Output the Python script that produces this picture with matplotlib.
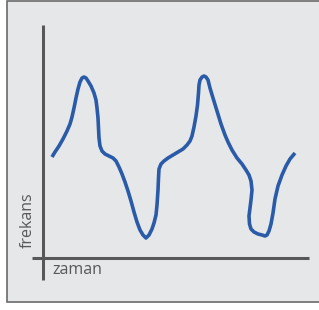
import matplotlib
matplotlib.use("Agg")
import matplotlib.pyplot as plt
from matplotlib.patches import Rectangle

# curve (pixel positions, y grows downward)
zaman = [52, 55, 59, 63, 67, 70, 72, 74, 76, 78, 80, 82, 84, 86, 88, 91, 94, 96, 97, 98,
         98.5, 99, 100, 102, 105, 109, 113, 116, 119, 122, 125, 128, 131, 134, 137, 140,
         143, 146, 149, 152, 154, 156, 157, 158, 158.5, 159, 161, 164, 168, 173, 178, 183,
         187, 190, 192, 194, 196, 197.5, 198.5, 199, 200, 202, 204, 206, 208, 210, 213,
         217, 221, 225, 228, 232, 237, 242, 246, 249, 251, 252, 251, 250, 249, 249.5, 251,
         254, 258, 262, 265, 267, 269, 271, 273, 275, 278, 282, 286, 290, 295]
frekans = [157, 152, 146, 139, 131, 124, 117, 108, 98, 89, 82, 78, 77, 78, 81, 86, 93, 100,
           108, 118, 128, 138, 146, 151, 154, 156, 158, 161, 167, 174, 182, 191, 201, 212,
           222, 230, 235, 238, 235, 229, 223, 215, 205, 190, 178, 169, 164, 161, 158, 155,
           152, 149, 145, 141, 136, 127, 116, 105, 93, 85, 80, 77, 76, 77, 80, 88, 98,
           111, 124, 135, 142, 150, 158, 164, 170, 175, 181, 190, 200, 208, 216, 224, 229,
           232, 234, 235, 236, 235, 231, 224, 213, 199, 186, 175, 166, 159, 153]

fig = plt.figure(figsize=(3.19, 3.10), dpi=100)
fig.patch.set_facecolor("white")
ax = fig.add_axes([0, 0, 1, 1])
ax.set_xlim(0, 319)
ax.set_ylim(310, 0)
ax.axis("off")

# panel background
ax.add_patch(Rectangle((7, 0.6), 315, 301.4, facecolor="#e6e7e9",
                       edgecolor="#6a6a6a", linewidth=1.2))

# axes lines
ax.plot([43, 43], [25, 280], color="#58585a", linewidth=2.2, solid_capstyle="butt")
ax.plot([32, 309], [258, 258], color="#58585a", linewidth=2.2, solid_capstyle="butt")

ax.plot(zaman, frekans, color="#2a5ba8", linewidth=2.6,
        solid_joinstyle="round", solid_capstyle="butt")

ax.text(52, 270, "zaman", fontsize=11.5, color="#58585a", ha="left", va="center",
        family="Open Sans")
ax.text(28, 220, "frekans", fontsize=11.5, color="#58585a", ha="center", va="center",
        rotation=90, family="Open Sans")

fig.savefig("out.png", dpi=100)
